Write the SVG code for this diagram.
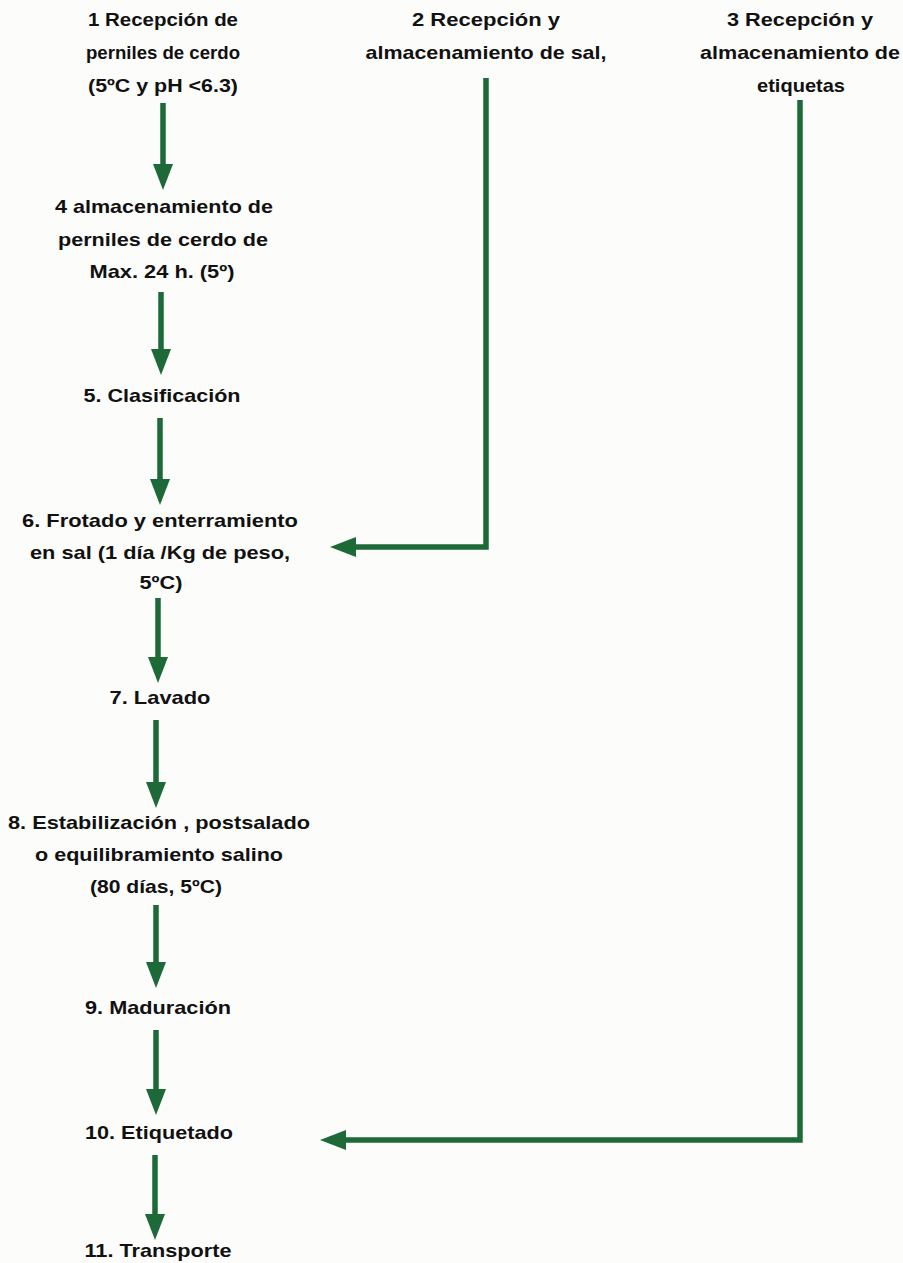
<svg xmlns="http://www.w3.org/2000/svg" width="903" height="1263" viewBox="0 0 903 1263">
  <style>
    .lbl { font-family: "Liberation Sans", Arial, sans-serif; font-weight: bold; font-size: 19px; fill: #111; text-anchor: middle; }
    .flow { stroke: #1d6a38; stroke-width: 5.5; fill: none; }
  </style>
  <defs>
    <marker id="head" markerUnits="userSpaceOnUse" markerWidth="26" markerHeight="20" viewBox="0 0 26 20" refX="8" refY="10" orient="auto">
      <path d="M0,0 L26,10 L0,20 z" fill="#1d6a38"/>
    </marker>
  </defs>
  <rect width="903" height="1263" fill="#fcfcfb"/>

  <!-- connectors -->
  <g id="connectors">
    <line class="flow" x1="163" y1="103" x2="163" y2="172" marker-end="url(#head)"/>
    <line class="flow" x1="161" y1="292" x2="161" y2="357" marker-end="url(#head)"/>
    <line class="flow" x1="160" y1="418" x2="160" y2="487" marker-end="url(#head)"/>
    <line class="flow" x1="158" y1="598" x2="158" y2="665" marker-end="url(#head)"/>
    <line class="flow" x1="156" y1="720" x2="156" y2="790" marker-end="url(#head)"/>
    <line class="flow" x1="156" y1="905" x2="156" y2="970" marker-end="url(#head)"/>
    <line class="flow" x1="156" y1="1030" x2="156" y2="1097" marker-end="url(#head)"/>
    <line class="flow" x1="155" y1="1155" x2="155" y2="1222" marker-end="url(#head)"/>
    <polyline class="flow" points="486,78 486,547 348,547" marker-end="url(#head)"/>
    <polyline class="flow" points="800,100 800,1140 338,1140" marker-end="url(#head)"/>
  </g>

  <g id="n1">
    <text class="lbl" x="163" y="26" textLength="150" lengthAdjust="spacingAndGlyphs">1 Recepción de</text>
    <text class="lbl" x="163" y="59" textLength="154" lengthAdjust="spacingAndGlyphs">perniles de cerdo</text>
    <text class="lbl" x="163" y="92" textLength="150" lengthAdjust="spacingAndGlyphs">(5ºC y pH &lt;6.3)</text>
  </g>
  <g id="n2">
    <text class="lbl" x="486" y="26" textLength="148" lengthAdjust="spacingAndGlyphs">2 Recepción y</text>
    <text class="lbl" x="486" y="59" textLength="241" lengthAdjust="spacingAndGlyphs">almacenamiento de sal,</text>
  </g>
  <g id="n3">
    <text class="lbl" x="800" y="26" textLength="146" lengthAdjust="spacingAndGlyphs">3 Recepción y</text>
    <text class="lbl" x="800" y="59" textLength="200" lengthAdjust="spacingAndGlyphs">almacenamiento de</text>
    <text class="lbl" x="801" y="92" textLength="88" lengthAdjust="spacingAndGlyphs">etiquetas</text>
  </g>
  <g id="n4">
    <text class="lbl" x="164" y="213" textLength="218" lengthAdjust="spacingAndGlyphs">4 almacenamiento de</text>
    <text class="lbl" x="163" y="246" textLength="210" lengthAdjust="spacingAndGlyphs">perniles de cerdo de</text>
    <text class="lbl" x="162" y="278" textLength="145" lengthAdjust="spacingAndGlyphs">Max. 24 h. (5º)</text>
  </g>
  <g id="n5">
    <text class="lbl" x="162" y="402" textLength="157" lengthAdjust="spacingAndGlyphs">5. Clasificación</text>
  </g>
  <g id="n6">
    <text class="lbl" x="160" y="527" textLength="276" lengthAdjust="spacingAndGlyphs">6. Frotado y enterramiento</text>
    <text class="lbl" x="160" y="559" textLength="260" lengthAdjust="spacingAndGlyphs">en sal (1 día /Kg de peso,</text>
    <text class="lbl" x="161" y="589" textLength="43" lengthAdjust="spacingAndGlyphs">5ºC)</text>
  </g>
  <g id="n7">
    <text class="lbl" x="160" y="704" textLength="101" lengthAdjust="spacingAndGlyphs">7. Lavado</text>
  </g>
  <g id="n8">
    <text class="lbl" x="159" y="829" textLength="302" lengthAdjust="spacingAndGlyphs">8. Estabilización , postsalado</text>
    <text class="lbl" x="159" y="861" textLength="248" lengthAdjust="spacingAndGlyphs">o equilibramiento salino</text>
    <text class="lbl" x="156" y="893" textLength="132" lengthAdjust="spacingAndGlyphs">(80 días, 5ºC)</text>
  </g>
  <g id="n9">
    <text class="lbl" x="158" y="1014" textLength="146" lengthAdjust="spacingAndGlyphs">9. Maduración</text>
  </g>
  <g id="n10">
    <text class="lbl" x="159" y="1139" textLength="148" lengthAdjust="spacingAndGlyphs">10. Etiquetado</text>
  </g>
  <g id="n11">
    <text class="lbl" x="158" y="1257" textLength="147" lengthAdjust="spacingAndGlyphs">11. Transporte</text>
  </g>
</svg>
